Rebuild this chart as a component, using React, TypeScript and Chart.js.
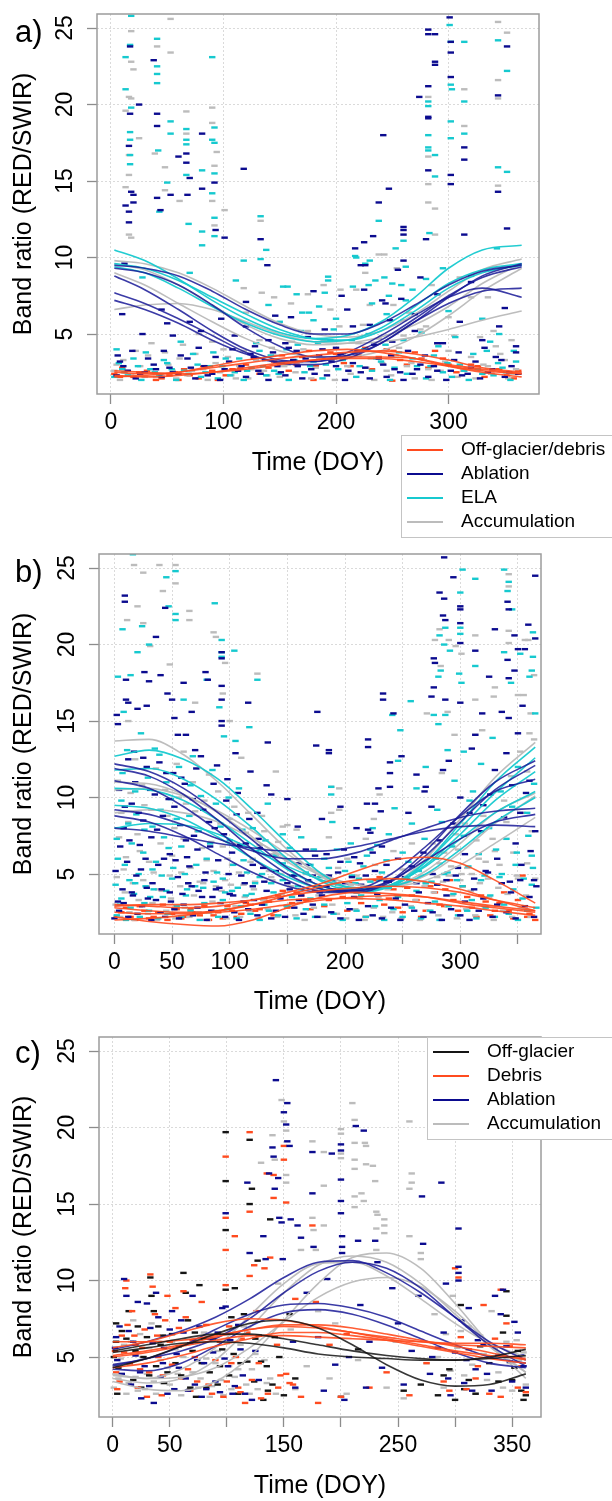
import React, { useEffect, useRef } from "react";
import { Chart, registerables } from "chart.js";

Chart.register(...registerables);

type Pt = [number, number];

const FONT = "'Liberation Sans', Arial, Helvetica, sans-serif";

const ORANGE = "#FF4B1F";
const BLUE = "#0B0B8F";
const CYAN = "#16C9CF";
const GRAY = "#BCBCBC";
const BLACK = "#151515";
const ORANGE_LINE = "rgba(255,75,31,0.9)";
const BLUE_LINE = "rgba(25,25,150,0.85)";
const CYAN_LINE = "rgba(22,201,207,0.95)";
const GRAY_LINE = "rgba(185,185,185,0.95)";
const BLACK_LINE = "rgba(20,20,20,0.85)";

const yTicks = [5, 10, 15, 20, 25];
const yMin = 1.08;
const yMax = 25.92;
const yTitle = "Band ratio (RED/SWIR)";
const xTitle = "Time (DOY)";

// ---------------- Panel a ----------------
const aXTicks = [0, 100, 200, 300];
const aXLabels = [0, 100, 200, 300];
const aLegendNames = ["Off-glacier/debris", "Ablation", "ELA", "Accumulation"];
const aCurveDays = [3, 30, 60, 90, 120, 150, 180, 210, 240, 270, 300, 330, 365];
const aDebrisCurves = [
  [2.5, 2.4, 2.5, 2.8, 3.1, 3.4, 3.6, 3.8, 3.9, 3.7, 3.3, 2.8, 2.5],
  [2.3, 2.2, 2.3, 2.5, 2.8, 3.1, 3.3, 3.4, 3.4, 3.2, 2.9, 2.6, 2.4],
  [2.6, 2.5, 2.4, 2.5, 2.7, 3.0, 3.3, 3.5, 3.5, 3.4, 3.0, 2.7, 2.4],
  [2.2, 2.3, 2.5, 2.9, 3.3, 3.6, 3.9, 4.0, 3.8, 3.4, 2.9, 2.5, 2.2],
];
const aAblationCurves = [
  [9.5, 9.3, 8.8, 7.8, 6.6, 5.6, 5.0, 5.0, 5.7, 6.9, 8.2, 9.1, 9.5],
  [8.8, 7.9, 6.6, 5.2, 4.0, 3.3, 3.2, 3.6, 4.6, 6.0, 7.5, 8.7, 9.4],
  [7.7, 7.0, 6.0, 4.9, 3.8, 3.1, 3.0, 3.4, 4.4, 5.8, 7.0, 7.8, 8.0],
  [7.2, 6.6, 5.7, 4.6, 3.7, 3.2, 3.2, 3.8, 4.9, 6.2, 7.4, 8.0, 7.4],
  [9.3, 9.0, 8.2, 6.9, 5.4, 4.2, 3.5, 3.6, 4.4, 5.8, 7.4, 8.8, 9.6],
];
const aElaCurves = [
  [10.5, 9.8, 8.6, 7.2, 6.0, 5.1, 4.7, 4.9, 5.8, 7.4, 9.3, 10.5, 10.8],
  [9.6, 9.3, 8.5, 7.4, 6.3, 5.3, 4.7, 4.6, 5.2, 6.5, 8.0, 9.0, 9.5],
  [9.4, 9.0, 8.0, 6.8, 5.7, 4.9, 4.5, 4.6, 5.4, 6.8, 8.3, 9.2, 9.6],
];
const aAccumCurves = [
  [9.8, 9.6, 9.0, 8.0, 6.8, 5.7, 5.0, 4.8, 5.2, 6.3, 7.8, 9.2, 9.9],
  [9.6, 9.2, 8.2, 6.9, 5.6, 4.7, 4.3, 4.4, 4.8, 5.6, 6.8, 8.3, 9.6],
  [6.6, 6.9, 7.0, 6.6, 5.8, 5.0, 4.5, 4.4, 4.5, 4.8, 5.3, 5.9, 6.5],
  [9.0, 8.2, 7.0, 5.8, 4.7, 3.9, 3.5, 3.5, 3.9, 4.8, 6.2, 7.8, 9.3],
];
const aAblationPts: Pt[] = [
  [17,23.8],[38,22.9],[25,20.0],[17,19.4],[16,17.3],[18,14.3],[20,14.1],[20,13.6],[13,13.4],[16,13.0],[16,12.3],[41,19.4],[41,18.6],[53,14.1],[41,13.9],[44,13.1],[67,16.8],[67,16.2],[70,15.2],[68,14.1],[60,16.6],[81,18.1],[81,14.5],[92,14.9],[93,11.8],[101,11.3],[118,15.8],[133,11.2],[139,9.5],[146,6.2],
  [301,25.7],[282,24.9],[282,24.6],[288,24.6],[302,24.1],[352,23.8],[302,23.4],[288,22.8],[288,22.6],[302,21.8],[282,21.2],[274,20.5],[344,20.6],[282,19.2],[282,19.1],[242,18.0],[314,17.2],[314,16.4],[282,15.7],[302,15.4],[302,14.8],[344,14.3],[247,14.5],[238,13.6],[260,12.0],[260,11.8],[260,11.5],[233,11.4],[225,11.0],[280,11.2],[314,11.5],[352,11.9],[217,10.6],[260,9.8],[222,9.5],[226,9.5],[241,7.2],[244,7.0],[255,9.2],[258,7.3],[275,8.7],[210,6.6],
  [12,9.6],[10,6.3],[28,5.0],[45,6.6],[50,5.7],[55,4.9],[70,5.8],[80,5.2],[98,6.0],[110,4.9],[120,5.5],[128,4.2],[140,4.6],[155,4.4],[165,3.9],[175,4.8],[190,5.3],[200,4.1],[215,5.5],[230,5.6],[250,4.5],[270,5.2],[290,4.4],[310,5.8],[330,4.6],[345,5.5],[360,4.2],
  [120,7.1],[160,6.1],[180,7.8],[205,7.5],[270,6.3],[290,7.6],[320,8.4],[350,6.7],[225,7.9],[248,5.9],
  [5,2.3],[8,3.2],[15,2.6],[22,2.1],[30,2.5],[38,3.0],[45,2.2],[52,2.8],[60,2.4],[68,3.4],[75,2.1],[83,2.9],[90,2.4],[97,2.0],[105,3.2],[113,2.6],[120,2.2],[127,3.5],[133,2.4],[140,2.0],[148,2.9],[155,2.3],[162,3.3],[170,2.1],[178,2.7],[185,3.6],[192,2.3],[200,2.9],[208,2.0],[215,3.1],[222,2.5],[230,2.1],[238,3.4],[245,2.2],[252,2.7],[260,2.0],[268,2.4],[275,3.0],[282,2.2],[290,2.6],[298,2.0],[305,3.3],[312,2.3],[320,2.8],[328,2.1],[335,2.5],[342,3.5],[350,2.2],[356,2.9],[362,2.4],
  [6,3.6],[11,2.9],[19,3.9],[26,2.4],[33,3.4],[40,2.7],[47,3.9],[55,2.5],[62,3.6],[71,2.8],[78,4.1],[86,2.3],[93,3.5],[101,2.7],[108,4.0],[116,2.9],[124,3.7],[131,2.6],[137,3.3],[144,3.8],[151,2.5],[158,4.1],[166,2.9],[173,3.4],[181,2.4],[188,4.0],[196,3.2],[204,3.7],[211,2.6],[219,3.9],[226,2.8],[234,4.3],[242,3.0],[249,3.6],[257,2.5],[264,3.9],[272,2.7],[279,3.6],[287,2.9],[295,4.4],[302,2.6],[309,3.8],[317,2.4],[324,3.2],[332,4.1],[339,2.7],[347,3.3],[354,2.5],[360,3.8],
];
const aElaPts: Pt[] = [
  [18,25.8],[13,23.1],[17,23.9],[41,24.3],[41,22.5],[41,22.0],[41,21.4],[90,23.1],[13,21.0],[18,19.8],[17,18.2],[17,17.7],[17,16.7],[17,16.1],[53,18.9],[53,18.1],[42,17.0],[50,14.9],[43,13.0],[67,18.4],[67,17.7],[67,17.4],[67,15.4],[69,12.2],[81,15.7],[81,11.7],[81,10.8],[92,18.5],[90,17.7],[92,17.5],[92,15.5],[90,14.2],[92,12.6],[92,11.4],[133,12.7],[138,10.5],[133,9.9],[118,9.8],[153,8.1],[111,8.5],[70,9.0],[28,8.7],[5,4.0],[10,2.7],
  [301,25.2],[302,24.1],[314,24.1],[344,24.2],[352,22.2],[302,21.3],[303,21.0],[282,20.2],[282,19.9],[314,20.2],[302,18.9],[282,18.0],[314,18.1],[302,17.8],[282,17.2],[282,17.0],[288,16.7],[344,15.9],[352,15.6],[288,15.3],[238,12.4],[283,11.6],[260,11.1],[253,10.6],[217,10.1],[343,10.6],[230,9.8],[193,8.75],[193,8.5],[190,7.7],[185,6.8],[176,6.4],[180,5.9],[170,6.4],[157,8.1],[218,10.0],[226,9.6],[229,8.2],[235,8.5],[243,8.7],[247,7.5],[232,7.0],[250,8.3],[258,8.2],[268,7.9],[262,9.4],[300,6.5],[330,6.0],[345,5.0],
  [140,6.9],[165,7.6],[200,6.0],[215,8.1],[245,6.3],[262,7.2],[280,8.6],[295,9.3],[320,8.8],[150,5.8],
  [3,2.2],[12,2.5],[20,3.4],[27,2.0],[35,2.7],[43,2.3],[50,3.1],[58,2.0],[65,2.6],[73,3.7],[80,2.2],[88,2.9],[95,2.1],[102,3.4],[110,2.5],[118,2.0],[125,2.8],[132,3.9],[138,2.3],[145,2.6],[152,3.1],[158,2.0],[166,4.3],[172,2.5],[180,3.2],[188,2.1],[195,4.6],[202,2.7],[210,3.5],[218,2.2],[225,4.0],[232,2.6],[240,3.2],[248,2.0],[256,3.8],[263,2.4],[272,2.9],[280,2.1],[287,3.6],[295,2.5],[303,2.2],[310,3.0],[318,2.0],[326,2.7],[334,3.9],[340,2.3],[348,2.8],[355,2.0],[360,3.2],
  [7,3.1],[15,2.3],[24,2.9],[31,3.8],[39,2.5],[47,3.3],[54,2.7],[62,4.5],[69,2.4],[77,3.0],[84,2.5],[91,3.8],[99,2.9],[106,2.3],[114,3.4],[121,2.6],[129,4.4],[135,2.9],[142,3.6],[149,2.4],[156,4.0],[163,3.3],[169,5.2],[177,2.9],[184,4.4],[191,3.0],[198,5.3],[206,3.3],[214,4.6],[221,2.9],[229,5.0],[236,3.4],[244,4.3],[252,2.8],[260,4.6],[268,3.4],[276,5.1],[284,2.9],[291,4.2],[299,3.1],[306,4.8],[314,2.6],[322,3.7],[330,2.4],[337,4.5],[344,3.1],[351,2.5],[358,3.9],
];
const aAccumPts: Pt[] = [
  [53,25.6],[18,24.8],[18,22.8],[20,22.3],[53,23.4],[41,23.8],[13,19.6],[16,20.5],[18,20.4],[25,17.8],[16,16.7],[16,15.4],[13,14.6],[16,11.5],[18,11.3],[39,16.8],[48,15.9],[48,14.4],[61,13.7],[67,19.55],[67,18.1],[90,19.8],[90,18.8],[94,16.9],[92,16.0],[90,13.7],[92,12.1],[101,13.1],[133,12.4],[118,8.0],[134,7.7],[145,7.4],[160,7.0],[175,7.6],[189,8.2],[204,7.9],[218,7.9],[226,9.0],[243,10.2],[251,6.9],
  [344,25.4],[352,24.7],[314,21.0],[344,21.6],[282,20.5],[344,20.4],[314,18.6],[282,16.6],[344,14.7],[282,14.8],[282,13.6],[288,13.2],[288,11.5],[238,10.2],[254,9.3],[320,7.4],[300,6.1],[280,5.5],[260,5.9],[340,5.2],[356,4.6],
  [120,6.4],[195,6.6],[230,6.9],[265,6.4],[285,8.2],[310,8.7],[335,7.4],
  [5,3.0],[8,2.0],[14,2.6],[22,3.9],[30,2.2],[36,4.4],[44,2.4],[51,3.0],[58,2.1],[64,4.3],[72,2.6],[78,5.0],[86,2.0],[93,3.1],[100,4.0],[107,2.3],[114,2.9],[122,2.1],[129,3.3],[136,2.6],[143,4.1],[150,2.2],[157,3.0],[164,2.5],[171,4.0],[178,2.1],[185,3.4],[192,2.6],[199,2.0],[206,3.7],[213,2.4],[220,4.4],[227,2.8],[234,2.0],[241,3.1],[249,2.3],[256,4.1],[263,2.9],[270,2.1],[278,3.3],[285,2.0],[293,2.6],[300,3.9],[308,2.2],[316,2.8],[324,2.1],[331,3.0],[338,2.4],[346,3.7],[353,2.1],[360,2.7],
  [3,2.6],[11,3.3],[18,2.3],[26,2.9],[33,3.6],[40,2.2],[48,3.8],[55,2.6],[61,3.4],[68,2.3],[75,3.7],[82,2.7],[90,4.5],[97,2.5],[104,3.5],[111,2.1],[118,3.9],[125,2.7],[132,4.6],[139,2.3],[147,3.6],[154,2.9],[161,4.5],[168,3.2],[175,5.2],[182,2.8],[189,4.6],[196,3.3],[203,5.5],[210,2.9],[217,3.8],[224,5.6],[231,3.4],[238,4.7],[245,2.6],[253,3.6],[260,4.9],[267,3.1],[275,5.3],[282,2.7],[290,4.4],[297,3.2],[305,4.9],[313,2.6],[320,3.5],[328,4.8],[335,2.9],[342,4.2],[350,3.3],[357,2.4],
];
const aDebrisPts: Pt[] = [
  [3,2.4],[10,2.8],[20,2.2],[32,2.6],[45,2.1],[57,2.5],[70,2.3],[82,2.9],[95,2.0],[108,2.7],[120,3.0],[132,2.4],[145,3.2],[158,2.6],[170,3.5],[182,2.9],[195,3.8],[207,3.1],[220,3.6],[232,2.7],[245,4.0],[257,3.3],[270,3.8],[282,2.8],[295,3.4],[307,2.5],[320,3.0],[332,2.2],[345,2.7],[358,2.1],[250,1.95],[180,2.0],[60,2.0],
  [8,2.2],[25,2.5],[40,2.0],[52,2.3],[65,2.7],[78,2.1],[90,2.6],[102,2.3],[115,2.8],[127,3.4],[140,2.8],[152,3.6],[165,3.0],[176,3.9],[188,3.4],[200,3.7],[213,2.9],[226,4.1],[238,3.5],[251,3.9],[263,3.0],[276,3.4],[288,3.9],[300,3.0],[313,2.6],[326,2.9],[338,2.4],[352,2.3],[362,2.6],
];

// ---------------- Panel b ----------------
const bXTicks = [0, 50, 100, 150, 200, 250, 300, 350];
const bXLabels = [0, 50, 100, 200, 300];
const bCurveDays = [0, 30, 60, 90, 120, 150, 180, 210, 240, 270, 300, 330, 365];
const bDebrisCurves = [
  [3.0, 2.9, 2.8, 2.9, 3.3, 3.8, 4.4, 5.2, 5.9, 6.1, 5.7, 4.6, 3.1],
  [2.8, 2.6, 2.5, 2.6, 3.0, 3.6, 4.2, 4.6, 4.7, 4.5, 4.0, 3.3, 2.6],
  [2.2, 1.9, 1.7, 1.6, 2.0, 2.8, 3.5, 3.8, 3.7, 3.5, 3.1, 2.8, 2.5],
  [2.5, 2.4, 2.4, 2.5, 2.7, 3.0, 3.3, 3.5, 3.6, 3.5, 3.2, 2.9, 2.6],
  [2.0, 2.1, 2.3, 2.6, 3.0, 3.3, 3.4, 3.4, 3.3, 3.1, 2.9, 2.6, 2.3],
  [2.9, 3.0, 3.0, 3.1, 3.3, 3.6, 3.9, 4.1, 4.2, 4.1, 3.8, 3.3, 2.8],
];
const bAblationCurves = [
  [12.2, 11.7, 10.6, 9.0, 7.2, 5.4, 4.2, 3.9, 4.6, 6.5, 8.9, 11.0, 12.4],
  [11.9, 11.4, 10.2, 8.5, 6.6, 5.0, 4.0, 3.8, 4.5, 6.2, 8.4, 10.5, 12.1],
  [11.1, 10.6, 9.4, 7.8, 6.0, 4.6, 3.9, 4.0, 5.0, 6.8, 8.8, 10.4, 11.2],
  [9.2, 8.9, 8.2, 7.3, 6.5, 6.0, 6.0, 6.4, 7.2, 8.0, 8.7, 9.1, 9.3],
  [8.0, 7.8, 7.4, 7.0, 6.7, 6.5, 6.5, 6.8, 7.3, 7.8, 8.1, 8.2, 8.1],
  [8.8, 8.4, 7.5, 6.3, 5.1, 4.2, 3.8, 3.9, 4.6, 5.9, 7.3, 8.4, 8.9],
];
const bElaCurves = [
  [12.7, 13.1, 12.5, 11.2, 9.2, 7.0, 5.0, 4.0, 4.2, 5.8, 8.3, 11.0, 13.3],
  [11.8, 11.9, 11.2, 9.8, 8.0, 6.0, 4.5, 3.9, 4.3, 5.8, 8.0, 10.3, 12.6],
  [10.6, 10.5, 9.8, 8.5, 6.9, 5.3, 4.2, 3.8, 4.2, 5.6, 7.6, 9.8, 11.7],
  [9.5, 9.3, 8.6, 7.4, 6.0, 4.8, 4.0, 3.8, 4.3, 5.5, 7.3, 9.0, 10.4],
  [8.0, 8.3, 8.2, 7.6, 6.6, 5.5, 4.6, 4.1, 4.2, 5.0, 6.6, 8.4, 10.0],
];
const bAccumCurves = [
  [13.7, 13.8, 12.8, 11.0, 8.8, 6.6, 4.8, 4.0, 4.3, 6.0, 8.6, 11.3, 13.6],
  [11.0, 10.9, 10.2, 9.0, 7.4, 5.8, 4.6, 4.1, 4.2, 5.2, 7.0, 9.0, 10.3],
  [10.5, 10.6, 10.1, 9.1, 7.8, 6.3, 5.0, 4.3, 4.2, 4.9, 6.4, 8.3, 10.1],
  [9.0, 9.2, 9.0, 8.4, 7.3, 6.0, 4.9, 4.3, 4.2, 4.6, 5.6, 7.0, 8.7],
];
const bAblationPts: Pt[] = [
  [9,23.2],[9,22.8],[10,17.7],[10,16.4],[12,16.2],[2,15.4],[3,14.8],[26,18.2],[30,17.6],[20,15.8],[28,16.0],[36,20.5],[44,22.4],[40,18.0],[46,16.8],[50,16.4],[52,15.2],[55,14.1],[62,14.1],[70,13.1],[67,15.6],[60,17.5],[79,18.2],[81,17.7],[93,19.5],[93,19.1],[93,17.3],[93,16.4],[93,15.0],[93,14.7],[105,12.9],[116,16.2],[118,11.7],[124,9.0],[133,13.6],[132,10.8],[136,10.2],[150,9.9],[159,8.1],[176,15.6],[175,13.4],[186,13.1],[186,12.9],[180,8.6],
  [4,10.5],[8,8.0],[12,12.5],[15,9.6],[18,11.0],[22,6.9],[25,8.5],[28,12.0],[32,7.4],[35,10.2],[38,5.6],[42,8.8],[45,11.6],[48,6.3],[52,9.4],[55,4.8],[58,11.3],[62,7.2],[65,5.5],[68,9.9],[72,6.6],[75,12.7],[78,4.6],[82,8.4],[86,10.9],[90,5.9],[95,7.6],[98,11.2],[102,6.4],[106,8.9],[110,4.9],[114,7.0],[120,5.6],[126,6.7],[130,4.5],[140,5.2],[150,4.4],[160,5.7],[166,6.6],[172,4.9],[178,3.8],[184,6.3],[190,4.6],[196,5.8],[202,3.9],[208,6.1],[214,4.3],[220,7.9],[222,7.7],[226,5.2],[232,6.8],[238,4.5],
  [1,5.2],[3,3.2],[5,6.8],[7,4.0],[9,9.4],[11,5.8],[13,7.2],[15,3.8],[17,13.0],[19,4.9],[21,9.0],[23,5.3],[25,12.6],[27,6.0],[29,3.4],[31,10.5],[33,4.4],[37,7.9],[39,12.3],[41,4.0],[43,6.0],[47,9.9],[49,3.2],[51,11.6],[53,5.9],[57,8.2],[59,3.7],[61,10.9],[63,6.1],[67,4.2],[69,7.5],[71,11.9],[73,3.9],[77,9.2],[79,5.1],[83,6.8],[85,3.5],[87,8.0],[89,12.1],[91,4.1],[97,9.8],[99,5.0],[103,3.6],[107,10.3],[109,6.9],[113,4.4],[117,8.6],[121,3.3],[125,7.3],[129,5.4],
  [156,4.9],[162,3.6],[168,5.6],[174,6.2],[186,4.9],[194,5.1],[199,6.6],[206,4.8],[213,5.7],[218,4.9],[224,6.4],[236,5.6],[246,6.0],[252,4.8],[258,5.5],
  [262,4.4],[268,6.4],[276,5.0],[282,7.2],[288,4.6],[294,8.3],[298,5.4],[304,6.3],[308,9.0],[312,4.7],[318,7.8],[322,5.2],[326,10.2],[332,6.0],[338,8.7],[343,4.5],[348,7.0],[353,5.6],[357,10.3],[361,6.5],[364,4.6],
  [286,25.7],[294,24.4],[282,23.4],[286,23.0],[300,22.3],[300,22.5],[285,21.9],[287,21.6],[300,21.4],[300,20.1],[277,19.1],[278,18.8],[277,17.2],[275,16.6],[287,16.4],[300,16.2],[313,19.6],[313,14.1],[341,22.8],[342,22.3],[347,20.6],[350,19.7],[356,19.7],[341,19.0],[342,17.8],[347,18.3],[359,21.3],[365,20.4],[365,24.5],[354,16.0],[350,14.2],[342,15.2],[319,15.5],[330,21.0],[325,17.9],[336,15.6],[285,11.8],[270,10.7],[269,10.4],[249,12.7],[233,16.8],[233,16.4],[242,15.5],[220,13.8],[220,13.3],[229,10.6],[226,9.6],[219,9.6],[231,9.1],[239,10.7],[239,11.6],[239,12.3],[210,8.0],[196,9.4],[255,9.0],[262,11.5],[275,9.4],[290,12.4],[300,10.0],[310,13.2],[320,9.5],[330,11.8],[340,12.9],[345,10.8],[352,9.0],[360,11.1],[365,7.8],
  [0,2.1],[4,2.6],[8,3.1],[12,2.2],[16,3.6],[20,2.4],[24,2.9],[28,4.1],[32,2.0],[36,3.3],[40,2.5],[44,2.2],[48,3.8],[52,2.7],[56,2.1],[60,3.0],[64,4.4],[68,2.3],[72,2.8],[76,3.5],[80,2.0],[84,2.6],[88,4.0],[92,3.1],[96,2.2],[100,3.7],[104,2.5],[108,2.0],[112,3.2],[116,2.7],[120,4.2],[124,2.3],[128,3.0],[132,3.9],[136,2.1],[140,2.6],[144,3.4],[148,2.2],[152,4.0],[156,2.8],[160,3.3],[164,2.4],[168,4.6],[172,3.0],[176,2.2],[180,3.6],[184,4.2],[188,2.5],[192,3.9],[196,2.1],[200,4.4],[204,2.7],[208,3.5],[212,2.0],[216,4.1],[220,2.9],[224,2.3],[228,3.7],[232,2.1],[236,4.5],[240,2.8],[244,3.4],[248,2.0],[252,3.0],[256,4.6],[260,2.6],[264,3.8],[268,2.2],[272,3.1],[276,2.5],[280,4.3],[284,2.0],[288,3.6],[292,2.7],[296,4.9],[300,2.3],[304,3.2],[308,2.0],[312,4.0],[316,2.6],[320,3.4],[324,5.1],[328,2.2],[332,3.0],[336,4.4],[340,2.5],[344,3.8],[348,2.1],[352,4.6],[356,2.9],[360,3.5],[364,2.2],[366,4.2],
];
const bElaPts: Pt[] = [
  [16,25.9],[37,26.0],[45,24.4],[53,24.8],[47,22.5],[53,22.0],[53,21.6],[7,21.0],[24,21.2],[3,17.9],[8,15.6],[14,18.0],[20,19.5],[30,20.0],[87,22.7],[93,20.3],[93,19.5],[93,19.2],[104,19.6],[80,17.7],[91,15.9],[95,14.0],[105,13.7],[117,14.6],[124,17.7],[68,12.7],[60,16.4],[35,13.2],[45,11.0],[2,7.3],[6,9.8],[12,8.3],[18,10.4],[26,7.9],[33,5.3],[40,9.2],[47,6.7],[54,8.6],[61,5.0],[66,10.8],[73,7.8],[80,6.0],[88,9.6],[94,4.7],[100,7.2],[108,10.6],[112,5.9],[120,8.0],[126,4.8],[133,9.6],[140,6.2],[146,7.6],[154,4.9],[162,7.4],[170,5.6],[176,4.2],[182,6.0],[188,10.2],[188,10.7],[189,8.4],[193,6.6],[200,5.2],[205,7.0],[212,4.7],[219,6.2],[224,8.0],[228,6.9],[232,5.1],[238,7.6],[243,9.3],[246,12.4],[248,14.4],[241,15.4],[257,16.3],[250,6.4],[258,8.3],
  [1,4.3],[3,6.0],[5,3.0],[7,11.6],[9,5.6],[11,13.1],[13,4.6],[15,7.0],[17,3.7],[19,8.9],[21,5.0],[23,14.2],[25,6.4],[27,4.2],[29,11.3],[31,3.5],[33,8.1],[36,5.8],[39,12.8],[41,4.9],[43,7.4],[45,3.9],[49,9.9],[51,5.4],[56,12.0],[58,6.8],[63,4.0],[65,8.8],[71,5.6],[75,10.1],[77,4.1],[83,7.0],[85,11.8],[89,5.1],[92,8.1],[96,3.8],[99,10.0],[103,5.6],[107,4.1],[111,7.9],[115,5.1],[119,3.7],[123,6.5],[128,5.0],[131,7.2],[136,4.4],
  [146,5.7],[152,6.7],[159,4.2],[166,5.1],[173,6.6],[180,4.9],[186,5.4],[196,4.1],[203,5.8],[209,4.4],[216,5.5],[222,6.6],[230,4.6],[236,5.9],[244,4.7],[255,5.8],
  [264,5.2],[269,7.3],[275,4.5],[279,6.0],[284,8.4],[289,5.1],[293,6.8],[297,4.6],[303,7.5],[307,5.5],[311,10.4],[316,6.3],[321,4.9],[325,8.0],[331,6.6],[336,5.0],[340,7.3],[345,9.4],[349,6.4],[355,4.7],[359,7.5],[363,5.4],
  [302,24.9],[313,24.3],[300,23.4],[287,21.1],[300,21.1],[300,20.7],[282,20.6],[286,20.0],[291,19.6],[283,18.3],[281,17.9],[301,17.5],[299,18.1],[277,15.4],[287,15.4],[281,14.8],[303,13.0],[289,13.1],[313,18.6],[328,13.9],[338,24.9],[342,24.1],[341,23.5],[345,22.3],[352,19.4],[338,19.5],[344,17.5],[360,17.9],[362,18.3],[363,20.8],[363,19.2],[365,15.5],[270,12.0],[262,10.6],[280,9.2],[295,11.1],[308,9.8],[318,12.2],[335,10.4],[350,12.0],[358,9.0],[364,10.9],[362,6.2],[348,5.6],
  [2,2.3],[6,3.4],[10,2.0],[14,2.8],[18,4.4],[22,2.2],[26,3.1],[30,2.6],[34,4.0],[38,2.1],[42,3.5],[46,2.4],[50,4.7],[54,2.9],[58,2.2],[62,3.6],[66,2.6],[70,4.2],[74,2.0],[78,3.1],[82,2.5],[86,4.5],[90,2.2],[94,3.3],[98,2.7],[102,3.9],[106,2.1],[110,2.9],[114,3.6],[118,2.4],[122,4.4],[126,2.0],[130,3.0],[134,2.6],[138,3.8],[142,2.3],[146,4.6],[150,2.9],[154,3.5],[158,2.1],[162,4.0],[166,2.7],[170,3.4],[174,2.2],[178,4.8],[182,3.0],[186,3.9],[190,2.4],[194,4.3],[198,2.0],[202,3.1],[206,4.9],[210,2.6],[214,3.6],[218,2.2],[222,4.5],[226,2.9],[230,3.3],[234,2.0],[238,4.1],[242,2.7],[246,3.5],[250,2.2],[254,4.7],[258,2.8],[262,3.9],[266,2.1],[270,4.4],[274,2.6],[278,3.2],[282,2.0],[286,5.0],[290,2.9],[294,3.7],[298,2.3],[302,4.2],[306,2.6],[310,3.3],[314,2.1],[318,4.6],[322,2.8],[326,3.6],[330,2.2],[334,4.8],[338,3.0],[342,2.4],[346,4.0],[350,2.0],[354,3.4],[358,2.6],[362,4.3],[366,2.8],
];
const bAccumPts: Pt[] = [
  [17,25.2],[25,24.7],[39,25.2],[53,25.2],[53,24.0],[42,23.5],[65,22.2],[65,21.6],[11,21.6],[25,21.4],[31,19.9],[20,22.5],[12,15.0],[18,12.5],[86,20.8],[88,20.5],[96,18.8],[94,16.8],[124,18.1],[60,13.0],[48,18.7],[70,16.2],[100,15.0],[110,12.6],[140,11.7],[150,8.2],[146,8.1],[195,10.6],[188,9.0],[188,10.7],[195,9.2],[230,10.2],[225,8.6],
  [3,11.1],[6,9.0],[10,6.1],[14,10.3],[20,7.6],[26,9.5],[30,5.8],[36,11.9],[40,7.0],[46,8.8],[50,6.2],[56,10.0],[60,7.3],[66,5.4],[70,9.1],[76,6.7],[82,11.5],[86,5.2],[92,8.3],[98,6.0],[104,9.4],[108,5.1],[114,7.7],[120,6.0],[128,8.8],[134,5.2],[142,7.1],[150,5.9],[158,7.9],[166,5.0],[172,6.6],[180,4.8],[186,7.4],[194,5.4],[202,6.0],[210,4.9],[218,7.3],[226,5.6],[234,4.6],[242,6.5],[250,5.3],[258,7.0],[266,4.9],[274,6.2],[282,5.7],[290,4.9],[298,6.6],[306,5.4],[314,7.2],[322,5.8],[330,6.5],[338,9.8],[344,11.4],[352,13.0],[358,11.7],[364,13.8],[360,14.2],[350,16.7],
  [2,4.8],[4,7.4],[8,5.3],[12,8.4],[16,4.4],[22,6.5],[24,10.8],[28,4.2],[32,9.2],[34,5.1],[38,4.0],[44,10.5],[48,4.9],[52,8.0],[54,12.2],[58,5.1],[62,9.6],[64,4.4],[68,11.0],[72,7.8],[74,4.5],[78,9.8],[80,5.9],[84,7.1],[88,4.2],[90,10.4],[94,6.8],[96,4.6],[100,8.6],[102,5.6],[106,7.0],[112,4.3],[116,9.0],[118,5.8],[122,4.5],[126,6.9],[130,7.8],[136,4.8],[138,6.3],[144,5.0],
  [270,4.4],[276,7.0],[280,4.8],[286,6.4],[292,5.5],[296,7.6],[300,4.6],[304,8.3],[310,5.0],[316,6.0],[320,8.8],[324,4.7],[328,7.3],[334,5.6],[340,8.4],[346,6.4],[350,4.7],[354,9.0],[358,5.7],[362,7.8],
  [342,24.6],[342,23.8],[342,20.9],[342,20.1],[356,20.3],[359,20.3],[282,21.0],[278,20.3],[283,18.6],[296,19.9],[301,19.4],[313,20.6],[289,15.6],[295,14.1],[313,14.1],[319,14.4],[313,16.4],[329,16.6],[284,11.6],[271,15.5],[290,20.3],[355,16.7],[361,15.5],[364,18.0],[330,17.2],
  [1,3.0],[5,2.2],[9,3.8],[13,2.5],[17,2.0],[21,3.3],[25,4.6],[29,2.4],[33,3.1],[37,2.0],[41,3.9],[45,2.6],[49,3.4],[53,2.1],[57,4.2],[61,2.8],[65,2.2],[69,3.6],[73,2.5],[77,4.4],[81,2.0],[85,3.2],[89,2.6],[93,3.9],[97,2.1],[101,4.3],[105,2.9],[109,2.2],[113,3.5],[117,2.6],[121,4.0],[125,2.1],[129,3.3],[133,2.7],[137,4.6],[141,2.2],[145,3.7],[149,2.9],[153,4.2],[157,2.3],[161,3.1],[165,2.0],[169,4.5],[173,2.8],[177,3.6],[181,2.2],[185,4.7],[189,3.0],[193,2.4],[197,3.9],[201,2.1],[205,4.3],[209,2.7],[213,3.4],[217,2.0],[221,4.6],[225,2.8],[229,3.5],[233,2.2],[237,4.0],[241,2.5],[245,3.6],[249,2.1],[253,4.8],[257,2.9],[261,3.3],[265,2.0],[269,4.2],[273,2.6],[277,3.8],[281,2.3],[285,4.5],[289,2.9],[293,3.6],[297,2.1],[301,5.0],[305,2.7],[309,3.9],[313,2.3],[317,4.4],[321,2.9],[325,3.5],[329,2.0],[333,4.1],[337,2.6],[341,3.7],[345,2.2],[349,4.9],[353,2.8],[357,3.6],[361,2.2],[365,4.7],
];
const bDebrisPts: Pt[] = [
  [2,2.2],[10,2.8],[18,2.0],[26,2.6],[34,2.2],[42,3.0],[50,2.4],[58,2.1],[66,2.7],[74,2.3],[82,2.0],[90,2.5],[98,2.9],[106,2.2],[114,3.1],[122,2.6],[130,3.4],[138,2.3],[146,3.9],[154,3.1],[162,3.6],[170,2.7],[178,4.1],[186,3.3],[194,4.3],[202,2.6],[210,3.8],[218,2.2],[226,4.6],[234,3.0],[242,4.0],[250,2.5],[258,3.6],[266,2.2],[274,4.2],[282,3.0],[291,4.6],[287,4.0],[298,2.6],[306,3.5],[314,2.2],[322,3.2],[330,2.6],[338,3.8],[346,2.1],[354,4.9],[360,2.4],[365,2.0],
  [6,2.5],[14,2.2],[22,2.9],[30,2.1],[38,2.5],[46,2.0],[54,2.7],[62,2.2],[70,2.5],[78,2.9],[86,2.3],[94,2.1],[102,2.6],[110,2.4],[118,3.0],[126,2.7],[134,3.2],[142,3.6],[150,2.8],[158,3.8],[166,3.3],[174,3.9],[182,2.9],[190,4.0],[198,3.5],[206,4.4],[214,3.1],[222,3.9],[230,4.8],[238,3.4],[246,2.8],[254,4.1],[262,3.3],[270,2.6],[278,3.8],[286,2.9],[294,3.3],[302,4.2],[310,2.8],[318,3.6],[326,2.3],[334,3.1],[342,2.6],[350,3.3],[358,2.2],
];

// ---------------- Panel c ----------------
const cXTicks = [0, 50, 100, 150, 200, 250, 300, 350];
const cXLabels = [0, 50, 150, 250, 350];
const cLegendNames = ["Off-glacier", "Debris", "Ablation", "Accumulation"];
const cCurveDays = [0, 30, 60, 90, 120, 150, 180, 210, 240, 270, 300, 330, 362];
const cOffCurves = [
  [4.3, 4.9, 5.7, 6.5, 7.2, 7.4, 6.9, 5.8, 4.5, 3.5, 3.1, 3.2, 3.9],
  [5.4, 5.8, 6.2, 6.5, 6.5, 6.2, 5.8, 5.4, 5.1, 4.9, 4.8, 5.0, 5.5],
  [5.3, 5.6, 5.9, 6.0, 5.9, 5.6, 5.2, 5.0, 4.9, 4.8, 4.8, 4.9, 5.1],
];
const cDebrisCurves = [
  [5.6, 6.0, 6.6, 7.2, 7.5, 7.4, 7.0, 6.6, 6.2, 5.8, 5.4, 5.1, 4.9],
  [6.0, 6.0, 6.1, 6.4, 6.8, 7.1, 7.1, 6.9, 6.5, 6.1, 5.7, 5.3, 4.8],
  [5.1, 5.4, 5.8, 6.3, 6.8, 7.0, 6.9, 6.6, 6.3, 6.0, 5.8, 5.7, 5.6],
  [5.0, 5.3, 5.7, 6.1, 6.4, 6.4, 6.3, 6.2, 6.1, 6.0, 5.9, 5.9, 5.8],
  [4.3, 4.6, 5.1, 5.7, 6.2, 6.6, 6.6, 6.4, 6.1, 5.7, 5.3, 4.9, 4.6],
];
const cAblationCurves = [
  [5.5, 6.0, 6.7, 7.6, 8.8, 10.2, 11.2, 11.3, 10.5, 9.2, 7.6, 6.0, 4.8],
  [4.4, 4.9, 5.4, 6.2, 7.5, 9.2, 10.6, 11.2, 10.8, 9.5, 7.6, 5.8, 4.4],
  [4.5, 4.9, 5.7, 6.8, 7.8, 8.4, 8.5, 8.2, 7.6, 6.7, 5.8, 5.0, 4.6],
  [4.2, 4.1, 4.6, 5.7, 7.0, 7.9, 8.1, 7.8, 7.1, 6.2, 5.3, 4.6, 4.3],
];
const cAccumCurves = [
  [3.6, 3.3, 3.6, 4.8, 6.9, 9.2, 11.0, 11.6, 11.2, 9.8, 7.8, 5.7, 4.0],
  [3.4, 2.9, 2.8, 3.4, 5.0, 7.4, 9.8, 11.5, 11.8, 10.8, 8.5, 5.9, 3.6],
  [3.8, 3.6, 4.2, 5.6, 7.7, 9.8, 11.1, 11.2, 10.3, 8.8, 7.2, 5.9, 5.0],
  [3.9, 3.6, 3.7, 4.3, 5.6, 7.3, 8.9, 9.9, 10.2, 9.6, 8.0, 5.9, 4.0],
];
const cOffPts: Pt[] = [
  [3,7.2],[3,6.0],[4,2.6],[12,6.2],[14,8.0],[15,4.6],[20,5.4],[25,3.0],[30,6.3],[33,10.2],[34,9.0],[36,8.0],[38,4.4],[40,7.0],[42,5.8],[45,3.3],[52,6.5],[55,4.6],[62,10.5],[64,9.2],[66,7.4],[68,3.0],[70,5.4],[73,2.4],[76,9.7],[80,6.2],[85,4.0],[92,3.2],[96,5.5],[99,19.7],[99,16.5],[99,13.3],[99,9.4],[100,6.5],[102,3.8],[106,5.2],[107,9.5],[110,2.6],[115,7.8],[118,4.7],[120,19.2],[120,15.0],[122,16.0],[124,3.4],[127,11.3],[128,6.4],[132,2.2],[135,4.4],[138,14.0],[140,3.2],[146,5.0],[150,2.5],[155,7.8],[160,3.6],[200,2.4],[215,5.5],[255,2.8],[270,3.2],[285,2.5],[295,4.2],[300,2.2],[305,8.4],[308,2.9],[318,2.6],[330,4.6],[345,9.3],[345,7.7],[350,3.5],[355,5.4],[360,2.2],[362,2.5],
  [1,5.0],[5,4.3],[8,6.7],[18,3.5],[22,7.0],[27,5.0],[32,3.8],[44,6.4],[48,4.0],[58,5.7],[60,3.8],[72,6.6],[78,4.6],[82,3.0],[88,6.2],[94,4.4],[104,7.6],[112,4.6],[125,6.2],[130,4.7],[136,2.8],[142,6.3],[290,3.8],[312,3.5],[322,5.7],[338,3.4],[342,6.6],[352,4.3],[358,2.8],
];
const cDebrisPts: Pt[] = [
  [3,4.0],[4,2.9],[8,6.4],[11,9.5],[12,10.0],[13,7.1],[17,8.0],[20,5.8],[24,4.2],[28,6.8],[30,2.4],[33,10.4],[35,9.6],[37,7.8],[40,5.0],[43,2.5],[46,7.4],[50,6.0],[55,8.2],[60,3.6],[62,9.3],[64,7.6],[68,2.8],[72,5.0],[78,8.6],[84,3.2],[90,4.8],[97,2.4],[99,18.1],[99,14.1],[99,12.0],[99,9.7],[102,7.0],[104,4.6],[107,12.9],[110,3.0],[113,6.2],[116,2.0],[120,19.7],[120,14.5],[120,10.3],[124,11.0],[126,8.0],[128,4.6],[130,2.3],[133,10.8],[135,17.0],[138,11.5],[141,16.9],[141,15.4],[144,5.8],[147,3.8],[150,18.8],[150,17.9],[152,15.1],[155,3.3],[160,8.8],[165,2.4],[175,13.6],[178,8.6],[180,2.0],[190,5.8],[200,2.4],[205,6.5],[225,3.0],[240,4.0],[260,2.5],[275,4.6],[290,3.4],[300,10.8],[303,10.2],[305,6.3],[310,2.9],[318,3.6],[325,8.4],[330,2.6],[340,9.4],[345,7.2],[350,5.0],[355,3.0],[362,2.7],
  [2,5.4],[6,3.4],[10,5.3],[15,4.6],[19,6.4],[22,3.0],[26,5.6],[32,4.0],[39,6.4],[44,3.8],[48,9.0],[52,4.5],[58,6.9],[66,4.2],[70,6.1],[74,3.4],[82,7.1],[87,2.6],[94,6.0],[100,3.4],[108,5.0],[112,2.7],[118,6.6],[122,3.5],[136,2.6],[145,3.0],[152,3.9],[158,3.2],[285,5.6],[295,2.8],[312,5.5],[320,4.4],[335,6.2],[340,2.4],[348,5.7],[358,4.4],
];
const cAblationPts: Pt[] = [
  [3,6.3],[4,4.8],[10,10.1],[12,9.0],[14,6.7],[16,3.2],[20,5.1],[25,2.3],[28,4.4],[30,8.5],[33,6.9],[36,2.0],[40,7.6],[42,3.7],[45,5.6],[48,2.6],[52,8.0],[58,4.3],[62,6.6],[66,2.8],[70,9.0],[74,4.8],[78,2.4],[85,6.2],[90,3.4],[96,8.2],[99,14.4],[99,8.3],[101,4.4],[105,2.6],[110,7.1],[114,3.8],[118,16.4],[120,11.8],[122,2.2],[125,5.4],[128,3.5],[132,12.9],[134,11.4],[137,17.0],[140,18.7],[141,18.1],[142,16.0],[143,23.1],[145,16.7],[146,14.1],[148,13.8],[149,11.4],[150,21.0],[152,20.2],[153,21.6],[153,19.1],[155,18.8],[156,14.0],[158,6.0],[160,3.0],[162,13.6],[165,12.8],[170,9.2],[175,18.4],[175,15.7],[176,12.2],[180,6.3],[185,2.8],[188,10.1],[192,18.3],[195,4.5],[200,18.9],[200,18.5],[200,16.6],[200,15.2],[200,14.4],[201,12.9],[201,12.2],[201,11.8],[203,2.2],[207,5.0],[213,20.1],[215,12.6],[217,8.4],[220,19.8],[222,3.0],[225,6.0],[230,12.6],[232,11.2],[236,4.3],[245,9.5],[250,7.2],[255,3.2],[262,5.4],[268,9.0],[271,15.5],[272,12.4],[278,3.9],[285,5.6],[288,16.4],[292,9.8],[296,2.5],[303,13.4],[303,10.9],[303,10.5],[303,10.0],[306,7.4],[310,4.8],[315,2.8],[320,6.1],[328,3.9],[335,9.0],[340,7.8],[345,5.7],[350,3.4],[355,6.6],[360,4.4],
  [2,5.6],[6,7.0],[8,3.9],[18,6.0],[22,8.6],[24,4.0],[32,3.1],[35,5.9],[38,9.2],[44,4.6],[50,6.8],[54,2.9],[56,5.2],[60,7.4],[64,3.6],[68,5.9],[72,3.2],[76,7.0],[80,4.6],[82,2.9],[88,5.3],[92,6.6],[94,2.7],[98,4.9],[103,6.1],[107,3.1],[112,5.5],[116,2.6],[280,5.0],[290,6.6],[294,3.6],[300,5.3],[308,3.3],[312,8.2],[318,4.2],[325,5.8],[332,2.8],[338,5.1],[342,9.4],[348,4.7],[352,7.3],[358,5.1],[362,3.0],
];
const cAccumPts: Pt[] = [
  [3,4.5],[5,3.6],[10,5.8],[14,3.3],[18,7.4],[22,2.8],[26,5.0],[30,3.9],[34,7.2],[38,2.6],[42,4.8],[46,6.4],[50,3.2],[55,5.5],[60,2.5],[65,7.4],[70,4.0],[75,3.0],[80,6.6],[85,2.4],[90,4.6],[95,3.5],[100,5.9],[104,2.9],[110,4.2],[115,7.0],[120,2.6],[125,5.2],[130,17.7],[135,3.3],[140,19.5],[142,17.9],[145,9.8],[148,21.8],[150,20.4],[152,19.8],[152,16.9],[152,16.4],[156,6.8],[160,2.9],[165,12.0],[170,4.4],[175,19.1],[175,14.1],[176,13.3],[178,12.0],[180,8.0],[185,18.4],[185,16.2],[185,13.6],[190,3.6],[195,7.2],[200,19.9],[200,19.6],[200,18.3],[200,18.0],[205,2.6],[210,21.6],[212,20.5],[212,19.0],[212,17.9],[212,17.3],[212,14.8],[212,15.5],[215,4.8],[218,15.7],[220,15.2],[221,19.0],[222,18.8],[222,17.6],[228,17.5],[230,16.5],[231,14.5],[232,14.3],[238,14.0],[238,13.6],[238,13.1],[231,13.4],[231,12.0],[240,3.0],[248,6.0],[255,2.3],[260,20.4],[262,17.0],[262,16.4],[260,16.0],[260,12.9],[270,11.4],[270,11.8],[275,4.6],[282,7.8],[290,3.0],[298,9.0],[302,5.6],[308,3.8],[312,7.0],[318,2.6],[325,5.2],[332,8.0],[338,4.0],[345,6.0],[350,2.8],[356,4.8],[362,3.2],
  [1,3.0],[7,4.9],[12,2.6],[16,6.0],[20,3.7],[24,6.5],[28,2.9],[32,5.6],[36,3.4],[40,6.0],[44,3.3],[48,4.3],[52,6.0],[57,3.9],[62,5.0],[67,2.9],[72,5.9],[77,3.6],[82,4.9],[87,3.1],[92,5.4],[97,2.5],[102,4.4],[107,3.7],[112,5.8],[117,3.2],[122,4.2],[127,2.9],[133,4.8],[138,3.6],[143,2.6],[285,5.0],[292,6.5],[296,4.1],[305,6.7],[315,4.5],[322,6.4],[328,3.5],[335,5.6],[342,3.0],[348,4.6],[354,6.1],[360,5.3],
];

// ---------------- layout ----------------
interface PanelCfg {
  top: number; height: number; axisW: number; padRight: number; axisH: number; titlePad: number;
  xMin: number; xMax: number; xTicks: number[]; xLabels: number[];
  label: string; labelY: number;
  curveDays: number[];
  curveGroups: { curves: number[][]; color: string }[];
  pointGroups: { pts: Pt[]; color: string }[];
  legend?: { x: number; y: number; items: { label: string; color: string }[] };
}

const PANELS: PanelCfg[] = [
  {
    top: 0, height: 540, axisW: 97, padRight: 73, axisH: 146, titlePad: 62,
    xMin: -12.4, xMax: 380.4, xTicks: aXTicks, xLabels: aXLabels, label: "a)", labelY: 33,
    curveDays: aCurveDays,
    curveGroups: [
      { curves: aDebrisCurves, color: ORANGE_LINE },
      { curves: aAblationCurves, color: BLUE_LINE },
      { curves: aElaCurves, color: CYAN_LINE },
      { curves: aAccumCurves, color: GRAY_LINE },
    ],
    pointGroups: [
      { pts: aAblationPts, color: BLUE },
      { pts: aElaPts, color: CYAN },
      { pts: aAccumPts, color: GRAY },
      { pts: aDebrisPts, color: ORANGE },
    ],
    legend: { x: 401, y: 435, items: aLegendNames.map((l, i) => ({ label: l, color: [ORANGE, BLUE, CYAN, GRAY][i] })) },
  },
  {
    top: 540, height: 490, axisW: 99, padRight: 71, axisH: 96, titlePad: 13,
    xMin: -13.4, xMax: 370, xTicks: bXTicks, xLabels: bXLabels, label: "b)", labelY: 33,
    curveDays: bCurveDays,
    curveGroups: [
      { curves: bDebrisCurves, color: ORANGE_LINE },
      { curves: bAblationCurves, color: BLUE_LINE },
      { curves: bElaCurves, color: CYAN_LINE },
      { curves: bAccumCurves, color: GRAY_LINE },
    ],
    pointGroups: [
      { pts: bAblationPts, color: BLUE },
      { pts: bElaPts, color: CYAN },
      { pts: bAccumPts, color: GRAY },
      { pts: bDebrisPts, color: ORANGE },
    ],
  },
  {
    top: 1023, height: 478, axisW: 99, padRight: 71, axisH: 84, titlePad: 0,
    xMin: -12, xMax: 375.3, xTicks: cXTicks, xLabels: cXLabels, label: "c)", labelY: 31,
    curveDays: cCurveDays,
    curveGroups: [
      { curves: cOffCurves, color: BLACK_LINE },
      { curves: cDebrisCurves, color: ORANGE_LINE },
      { curves: cAblationCurves, color: BLUE_LINE },
      { curves: cAccumCurves, color: GRAY_LINE },
    ],
    pointGroups: [
      { pts: cAblationPts, color: BLUE },
      { pts: cDebrisPts, color: ORANGE },
      { pts: cOffPts, color: BLACK },
      { pts: cAccumPts, color: GRAY },
    ],
    legend: { x: 427, y: 14, items: cLegendNames.map((l, i) => ({ label: l, color: [BLACK, ORANGE, BLUE, GRAY][i] })) },
  },
];

function buildChart(canvas: HTMLCanvasElement, p: PanelCfg) {
  const datasets: any[] = [];
  p.curveGroups.forEach((g) =>
    g.curves.forEach((c) =>
      datasets.push({
        type: "line",
        data: p.curveDays.map((d, i) => ({ x: d, y: c[i] })),
        showLine: true,
        borderColor: g.color,
        borderWidth: 1.6,
        pointRadius: 0,
        pointHoverRadius: 0,
        fill: false,
        cubicInterpolationMode: "monotone",
        order: 0,
      })
    )
  );
  p.pointGroups.forEach((g) =>
    datasets.push({
      type: "scatter",
      data: g.pts.map(([x, y]) => ({ x, y })),
      showLine: false,
      pointStyle: "line",
      pointRadius: 3.2,
      pointBorderWidth: 2.4,
      borderWidth: 2.4,
      borderColor: g.color,
      backgroundColor: g.color,
      order: 1,
    })
  );

  const decor = {
    id: "decor",
    afterDraw(chart: any) {
      const { ctx, chartArea: a } = chart;
      ctx.save();
      ctx.strokeStyle = "#9C9C9C";
      ctx.lineWidth = 1.5;
      ctx.strokeRect(a.left, a.top, a.right - a.left, a.bottom - a.top);
      ctx.fillStyle = "#000";
      ctx.font = `31px ${FONT}`;
      ctx.textAlign = "left";
      ctx.textBaseline = "middle";
      ctx.fillText(p.label, 15, p.labelY);
      if (p.legend) {
        const L = p.legend;
        const w = 612 - L.x + 10;
        ctx.fillStyle = "#fff";
        ctx.fillRect(L.x, L.y, w, 102);
        ctx.strokeStyle = "#C4C4C4";
        ctx.lineWidth = 1;
        ctx.strokeRect(L.x + 0.5, L.y + 0.5, w, 102);
        ctx.font = `19px ${FONT}`;
        L.items.forEach((it, i) => {
          const y = L.y + 15 + i * 24;
          ctx.strokeStyle = it.color;
          ctx.lineWidth = 2;
          ctx.beginPath();
          ctx.moveTo(L.x + 6, y);
          ctx.lineTo(L.x + 42, y);
          ctx.stroke();
          ctx.fillStyle = "#000";
          ctx.fillText(it.label, L.x + 60, y);
        });
      }
      ctx.restore();
    },
  };

  const tickFont = { family: FONT, size: 23 };
  const titleFont = { family: FONT, size: 25 };

  return new Chart(canvas, {
    type: "scatter",
    data: { datasets },
    options: {
      animation: false,
      responsive: false,
      devicePixelRatio: 1,
      events: [],
      layout: { padding: { left: 0, top: 14, right: p.padRight, bottom: 0 } },
      plugins: { legend: { display: false }, tooltip: { enabled: false } },
      scales: {
        x: {
          type: "linear",
          position: "bottom",
          min: p.xMin,
          max: p.xMax,
          afterBuildTicks: (s: any) => {
            s.ticks = p.xTicks.map((v) => ({ value: v }));
          },
          afterFit: (s: any) => {
            s.height = p.axisH;
            s.paddingLeft = 0;
            s.paddingRight = 0;
          },
          ticks: {
            autoSkip: false,
            maxRotation: 0,
            minRotation: 0,
            padding: 5,
            color: "#000",
            font: tickFont,
            callback: (v: any) => (p.xLabels.includes(Number(v)) ? String(v) : ""),
          },
          grid: { color: "#DADADA", lineWidth: 1, tickColor: "#8C8C8C", tickLength: 10, tickWidth: 1.3 },
          border: { display: false, dash: [2, 2] },
          title: { display: true, text: xTitle, color: "#000", font: titleFont, padding: { top: 0, bottom: p.titlePad } },
        },
        y: {
          type: "linear",
          position: "left",
          min: yMin,
          max: yMax,
          afterBuildTicks: (s: any) => {
            s.ticks = yTicks.map((v) => ({ value: v }));
          },
          afterFit: (s: any) => {
            s.width = p.axisW;
            s.paddingTop = 0;
            s.paddingBottom = 0;
          },
          ticks: {
            autoSkip: false,
            minRotation: 90,
            maxRotation: 90,
            crossAlign: "center",
            padding: 9,
            color: "#000",
            font: tickFont,
            callback: (v: any) => String(v),
          },
          grid: { color: "#DADADA", lineWidth: 1, tickColor: "#8C8C8C", tickLength: 10, tickWidth: 1.3 },
          border: { display: false, dash: [2, 2] },
          title: { display: true, text: yTitle, color: "#000", font: titleFont, padding: { top: 9, bottom: 0 } },
        },
      },
    } as any,
    plugins: [decor],
  });
}

function Panel({ cfg }: { cfg: PanelCfg }) {
  const ref = useRef<HTMLCanvasElement>(null);
  useEffect(() => {
    const chart = buildChart(ref.current as HTMLCanvasElement, cfg);
    return () => chart.destroy();
  }, [cfg]);
  return (
    <canvas
      ref={ref}
      width={612}
      height={cfg.height}
      style={{ position: "absolute", left: 0, top: cfg.top, width: 612, height: cfg.height }}
    />
  );
}

export default function App() {
  return (
    <div style={{ position: "absolute", left: 0, top: 0, width: 612, height: 1501, overflow: "hidden", background: "#fff" }}>
      {PANELS.map((p, i) => (
        <Panel key={i} cfg={p} />
      ))}
    </div>
  );
}
